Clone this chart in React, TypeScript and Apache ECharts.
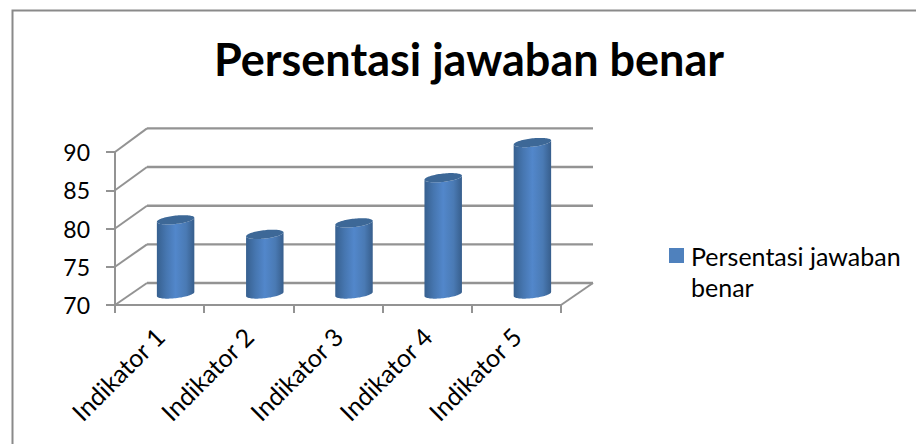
import React, { useEffect, useRef } from "react";
import * as echarts from "echarts";

const titleText = "Persentasi jawaban benar";
const categories = ["Indikator 1", "Indikator 2", "Indikator 3", "Indikator 4", "Indikator 5"];
const values = [79.7, 77.8, 79.3, 85.2, 89.8];
const wallTicks = [70, 75, 80, 85, 90];
const FONT = "Lato, Carlito, sans-serif";
const LINE = "#939393";
const DX = 32;
const DY = -22;

function wallRender(params: any, api: any) {
  const v = api.value(0);
  const p = api.coord([0, v]);
  const sz = api.size([1, 0]);
  const x0 = p[0] - sz[0] / 2;
  const x1 = x0 + sz[0] * categories.length;
  const y = p[1];
  const dy = DY - (v - wallTicks[0]) * 0.08;
  const children: any[] = [
    { type: "line", shape: { x1: x0, y1: y, x2: x0 + DX, y2: y + dy }, style: { stroke: LINE, lineWidth: 2 } },
    { type: "line", shape: { x1: x0 + DX, y1: y + dy, x2: x1 + DX, y2: y + dy }, style: { stroke: LINE, lineWidth: 2.4 } },
  ];
  if (v === wallTicks[0]) {
    children.push({ type: "line", shape: { x1: x1, y1: y, x2: x1 + DX, y2: y + dy }, style: { stroke: LINE, lineWidth: 2 } });
  }
  return { type: "group", children };
}

function cylinderRender(params: any, api: any) {
  const top = api.coord([api.value(0), api.value(1)]);
  const base = api.coord([api.value(0), 70]);
  const sz = api.size([1, 0]);
  const cx = base[0] + DX / 2;
  const lift = DY / 2;
  const yb = base[1] + lift;
  const yt = top[1] + lift;
  const rx = sz[0] * 0.21;
  const N = 40;
  const pt = (yc: number, t: number) => [cx + rx * Math.cos(t), yc + 4.2 * Math.sin(t) - 2 * Math.cos(t)];
  const body: number[][] = [];
  for (let i = 0; i <= N; i++) body.push(pt(yb, (Math.PI * i) / N));
  for (let i = 0; i <= N; i++) body.push(pt(yt, Math.PI - (Math.PI * i) / N));
  const cap: number[][] = [];
  for (let i = 0; i < N * 2; i++) cap.push(pt(yt, (Math.PI * i) / N));
  const grad = new echarts.graphic.LinearGradient(0, 0, 1, 0, [
    { offset: 0, color: "#37608f" },
    { offset: 0.25, color: "#4676b0" },
    { offset: 0.5, color: "#5287cb" },
    { offset: 0.78, color: "#4a7ab4" },
    { offset: 1, color: "#375e8c" },
  ]);
  return {
    type: "group",
    children: [
      { type: "polygon", shape: { points: body }, style: { fill: grad } },
      { type: "polygon", shape: { points: cap }, style: { fill: "#3d6897" } },
    ],
  };
}

export default function App() {
  const ref = useRef<HTMLDivElement>(null);
  useEffect(() => {
    const chart = echarts.init(ref.current!, null, { renderer: "svg" });
    chart.setOption({
      animation: false,
      backgroundColor: "#ffffff",
      title: {
        text: titleText,
        left: 214,
        top: 36,
        padding: 0,
        textStyle: { fontFamily: FONT, fontWeight: "bold", fontSize: 45, color: "#000" },
      },
      legend: {
        left: 669,
        top: 209,
        padding: 0,
        icon: "rect",
        itemWidth: 15,
        itemHeight: 15,
        itemGap: 0,
        data: [titleText],
        formatter: () => "\nPersentasi jawaban\nbenar",
        textStyle: { fontFamily: FONT, fontSize: 25, color: "#000", lineHeight: 31, padding: [0, 0, 0, 2] },
      },
      grid: { left: 115, right: 355, top: 152, bottom: 139 },
      xAxis: {
        type: "category",
        data: categories,
        boundaryGap: true,
        axisLine: { show: true, onZero: false, lineStyle: { color: LINE, width: 2 } },
        axisTick: { show: true, alignWithLabel: false, length: 8, lineStyle: { color: LINE, width: 2 } },
        axisLabel: { rotate: 45, interval: 0, fontFamily: FONT, fontSize: 25, color: "#000", margin: 27 },
      },
      yAxis: {
        type: "value",
        min: 70,
        max: 90,
        interval: 5,
        axisLine: { show: true, lineStyle: { color: LINE, width: 2 } },
        axisTick: { show: true, length: 9, lineStyle: { color: LINE, width: 2 } },
        axisLabel: { fontFamily: FONT, fontSize: 23, color: "#000", margin: 25 },
        splitLine: { show: false },
      },
      series: [
        {
          name: "__walls",
          type: "custom",
          coordinateSystem: "cartesian2d",
          silent: true,
          z: 1,
          data: wallTicks.map((t) => [t]),
          encode: { y: 0 },
          renderItem: wallRender,
        },
        {
          name: titleText,
          type: "custom",
          coordinateSystem: "cartesian2d",
          z: 3,
          itemStyle: { color: "#4f81bd" },
          data: values.map((v, i) => [i, v]),
          encode: { x: 0, y: 1 },
          renderItem: cylinderRender,
        },
      ],
      graphic: [
        {
          type: "rect",
          silent: true,
          z: -1,
          shape: { x: 12.5, y: 10.5, width: 910, height: 440 },
          style: { fill: "none", stroke: "#8a8a8a", lineWidth: 2 },
        },
      ],
    });
    return () => chart.dispose();
  }, []);
  return <div ref={ref} style={{ position: "fixed", left: 0, top: 0, width: 916, height: 444 }} />;
}
